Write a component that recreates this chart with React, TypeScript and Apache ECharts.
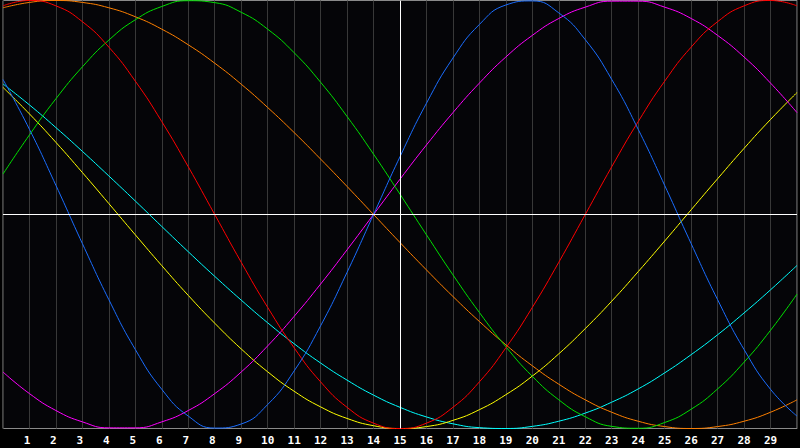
import React, { useEffect, useRef } from "react";
import * as echarts from "echarts";

const DAYS = [0,1,2,3,4,5,6,7,8,9,10,11,12,13,14,15,16,17,18,19,20,21,22,23,24,25,26,27,28,29,30];

const BLUE = [0.631,0.398,0.136,-0.136,-0.398,-0.631,-0.817,-0.942,-0.998,-0.979,-0.888,-0.731,-0.520,-0.270,0,0.270,0.520,0.731,0.888,0.979,0.998,0.942,0.817,0.631,0.398,0.136,-0.136,-0.398,-0.631,-0.817,-0.942];
const RED = [0.975,1,0.975,0.901,0.782,0.623,0.434,0.223,0,-0.223,-0.434,-0.623,-0.782,-0.901,-0.975,-1,-0.975,-0.901,-0.782,-0.623,-0.434,-0.223,0,0.223,0.434,0.623,0.782,0.901,0.975,1,0.975];
const GREEN = [0.189,0.372,0.541,0.690,0.815,0.910,0.972,0.999,0.990,0.945,0.866,0.756,0.618,0.458,0.282,0.095,-0.095,-0.282,-0.458,-0.618,-0.756,-0.866,-0.945,-0.990,-0.999,-0.972,-0.910,-0.815,-0.690,-0.541,-0.372];
const MAGENTA = [-0.736,-0.837,-0.916,-0.969,-0.997,-0.997,-0.969,-0.916,-0.837,-0.736,-0.614,-0.476,-0.325,-0.165,0,0.165,0.325,0.476,0.614,0.736,0.837,0.916,0.969,0.997,0.997,0.969,0.916,0.837,0.736,0.614,0.476];
const ORANGE = [0.966,0.991,1,0.991,0.966,0.924,0.866,0.793,0.707,0.609,0.5,0.383,0.259,0.131,0,-0.131,-0.259,-0.383,-0.5,-0.609,-0.707,-0.793,-0.866,-0.924,-0.966,-0.991,-1,-0.991,-0.966,-0.924,-0.866];
const CYAN = [0.610,0.512,0.406,0.295,0.180,0.063,-0.056,-0.174,-0.289,-0.400,-0.506,-0.604,-0.694,-0.774,-0.844,-0.901,-0.946,-0.978,-0.996,-1.0,-0.990,-0.966,-0.928,-0.877,-0.815,-0.740,-0.655,-0.562,-0.460,-0.352,-0.238];
const YELLOW = [0.594,0.470,0.337,0.196,0.051,-0.095,-0.239,-0.378,-0.508,-0.628,-0.735,-0.826,-0.899,-0.953,-0.987,-1.0,-0.991,-0.962,-0.912,-0.842,-0.755,-0.651,-0.533,-0.405,-0.267,-0.124,0.022,0.167,0.309,0.444,0.570];

const SERIES = [
  { name: "cyan", color: "#00ffff", values: CYAN },
  { name: "yellow", color: "#ffff00", values: YELLOW },
  { name: "orange", color: "#ff8000", values: ORANGE },
  { name: "magenta", color: "#ff00ff", values: MAGENTA },
  { name: "green", color: "#00e000", values: GREEN },
  { name: "red", color: "#ff0000", values: RED },
  { name: "blue", color: "#1a6dff", values: BLUE },
];

const LABEL_FONT = {
  color: "#ffffff",
  fontFamily: "DejaVu Sans Mono",
  fontWeight: "bold" as const,
  fontSize: 11,
};

export default function App() {
  const ref = useRef<HTMLDivElement>(null);
  useEffect(() => {
    document.body.style.margin = "0";
    document.body.style.background = "#000";
    const chart = echarts.init(ref.current!, undefined, { renderer: "svg" });
    const series: any[] = SERIES.map((s) => ({
      name: s.name,
      type: "line",
      smooth: true,
      showSymbol: false,
      symbol: "none",
      lineStyle: { color: s.color, width: 1 },
      itemStyle: { color: s.color },
      data: DAYS.map((d, i) => [d, s.values[i]]),
    }));
    series.push({
      type: "line",
      data: [],
      silent: true,
      markLine: {
        silent: true,
        symbol: "none",
        label: { show: false },
        lineStyle: { color: "#ffffff", width: 1, type: "solid" },
        data: [{ xAxis: 15 }, { yAxis: 0 }],
      },
      z: 1,
    });
    chart.setOption({
      animation: false,
      backgroundColor: "#000000",
      grid: {
        left: 0.5,
        top: 0.5,
        right: 0.5,
        bottom: 19.5,
        show: true,
        backgroundColor: "#050508",
        borderColor: "#8a8a8a",
        borderWidth: 1,
      },
      xAxis: {
        type: "value",
        min: 0,
        max: 30,
        interval: 1,
        axisLine: { show: false },
        axisTick: { show: false },
        splitLine: { show: true, lineStyle: { color: "#383838", width: 1 } },
        axisLabel: {
          ...LABEL_FONT,
          margin: 6,
          formatter: (v: number) =>
            v === 0 || v === 30 ? "" : v < 10 ? `{s|${v}}` : `{d|${v}}`,
          rich: {
            s: { ...LABEL_FONT, padding: [0, 5, 0, 0] },
            d: { ...LABEL_FONT },
          },
        },
      },
      yAxis: {
        type: "value",
        min: -1,
        max: 1,
        show: false,
        splitLine: { show: false },
      },
      series,
    });
    return () => chart.dispose();
  }, []);
  return <div ref={ref} style={{ width: 800, height: 448 }} />;
}
